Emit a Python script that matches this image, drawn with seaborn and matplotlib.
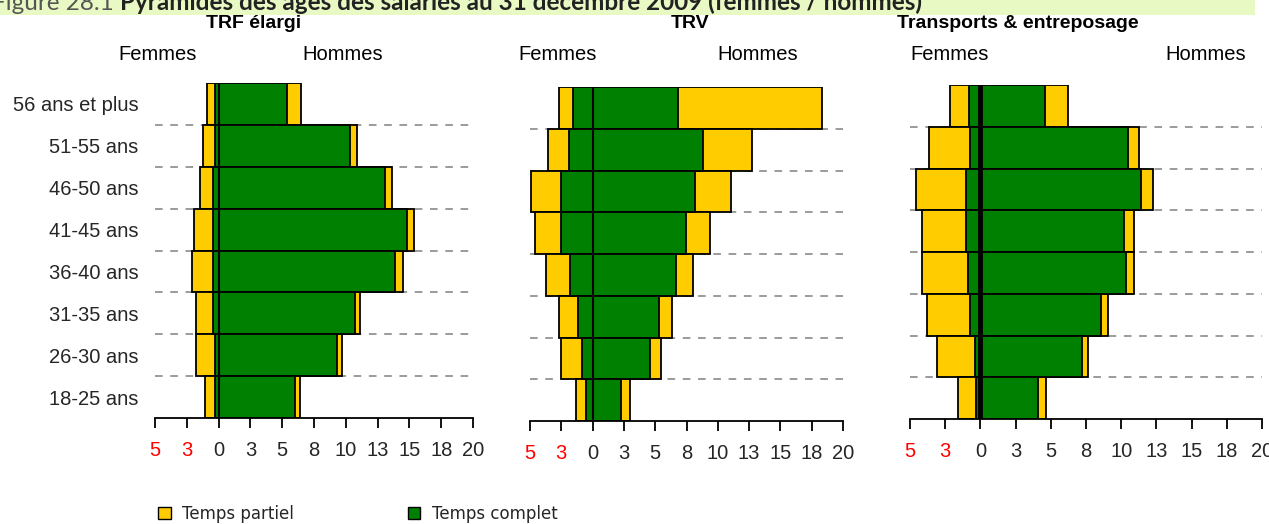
import numpy as np
import pandas as pd
import matplotlib
matplotlib.use('Agg')
import matplotlib.pyplot as plt
import seaborn as sns
from matplotlib.patches import Patch, Rectangle

# age classes, top to bottom
ages = ['56 ans et plus', '51-55 ans', '46-50 ans', '41-45 ans',
        '36-40 ans', '31-35 ans', '26-30 ans', '18-25 ans']

# % des salariés - TRF élargi
trf_h_complet = [5.4, 10.3, 13.1, 14.8, 13.9, 10.7, 9.3, 6.0]
trf_h_partiel = [1.05, 0.57, 0.57, 0.6, 0.6, 0.45, 0.42, 0.42]
trf_f_complet = [0.3, 0.25, 0.45, 0.45, 0.45, 0.45, 0.3, 0.25]
trf_f_partiel = [0.58, 0.96, 1.02, 1.49, 1.65, 1.3, 1.48, 0.78]

# TRV
trv_h_complet = [6.8, 8.8, 8.2, 7.45, 6.65, 5.3, 4.55, 2.3]
trv_h_partiel = [11.5, 3.9, 2.85, 1.95, 1.4, 1.05, 0.9, 0.72]
trv_f_complet = [1.6, 1.9, 2.5, 2.5, 1.8, 1.15, 0.85, 0.53]
trv_f_partiel = [1.1, 1.67, 2.42, 2.13, 1.94, 1.54, 1.68, 0.78]

# Transports & entreposage
tre_h_complet = [4.6, 10.5, 11.4, 10.2, 10.35, 8.6, 7.25, 4.1]
tre_h_partiel = [1.6, 0.78, 0.83, 0.69, 0.55, 0.45, 0.4, 0.55]
tre_f_complet = [0.78, 0.76, 1.04, 1.04, 0.9, 0.76, 0.36, 0.28]
tre_f_partiel = [1.37, 2.86, 3.53, 3.11, 3.25, 3.01, 2.7, 1.31]

panels = [
    ('TRF élargi', trf_h_complet, trf_h_partiel, trf_f_complet, trf_f_partiel),
    ('TRV', trv_h_complet, trv_h_partiel, trv_f_complet, trv_f_partiel),
    ('Transports & entreposage', tre_h_complet, tre_h_partiel, tre_f_complet, tre_f_partiel),
]

tick_vals = np.arange(-5, 20.1, 2.5)
tick_labels = ['5', '3', '0', '3', '5', '8', '10', '13', '15', '18', '20']

YELLOW = '#FFCC00'
GREEN = '#008000'

sns.set_theme(style='white')
plt.rcParams['font.family'] = ['Liberation Sans', 'DejaVu Sans']

W, H = 1269, 524
fig = plt.figure(figsize=(W / 100, H / 100), dpi=100)

# axes boxes in pixels: left, top, right, bottom
boxes = [(155, 83, 473, 418), (530, 87, 843, 421), (910, 85, 1262, 419)]
title_x = [254, 690, 1018]
femmes_x = [158, 558, 950]
hommes_x = [343, 758, 1206]
zero_lw = [1.5, 1.5, 3.5]


def px(x0, y0, x1, y1):
    return [x0 / W, 1 - y1 / H, (x1 - x0) / W, (y1 - y0) / H]


for i, (name, h_c, h_p, f_c, f_p) in enumerate(panels):
    ax = fig.add_axes(px(*boxes[i]))
    df = pd.DataFrame({'age': ages, 'h_c': h_c, 'h_p': h_p, 'f_c': f_c, 'f_p': f_p})
    df['h_tot'] = df['h_c'] + df['h_p']
    df['f_tot'] = -(df['f_c'] + df['f_p'])
    df['f_neg'] = -df['f_c']

    # total (partiel + complet) in yellow, complet drawn on top in green
    for col, c in [('h_tot', YELLOW), ('f_tot', YELLOW), ('h_c', GREEN), ('f_neg', GREEN)]:
        sns.barplot(data=df, x=col, y='age', order=ages, color=c, width=1.0,
                    edgecolor='black', linewidth=1.3, saturation=1, errorbar=None, ax=ax)

    for yy in np.arange(0.5, 7, 1.0):
        ax.axhline(yy, color='#808080', lw=1.1, ls=(0, (5, 5)), zorder=0)
    ax.axvline(0, color='black', lw=zero_lw[i], zorder=5)

    ax.set_xlim(-5, 20)
    ax.set_ylim(7.5, -0.5)
    ax.set_xticks(tick_vals)
    ax.set_xticklabels(tick_labels)
    for lab in ax.get_xticklabels()[:2]:
        lab.set_color('red')
    ax.set_xlabel('')
    ax.set_ylabel('')
    for s in ['top', 'right', 'left']:
        ax.spines[s].set_visible(False)
    ax.spines['bottom'].set_color('black')
    ax.spines['bottom'].set_linewidth(1.3)
    ax.tick_params(axis='x', direction='out', length=7, width=1.3, color='black',
                   labelsize=14.5, pad=9.5, bottom=True)
    ax.tick_params(axis='y', length=0, labelsize=14.5, pad=12)
    if i > 0:
        ax.set_yticklabels([])
    ax.set_facecolor('white')

    fig.text(title_x[i] / W, 1 - 23 / H, name, ha='center', va='center',
             fontsize=14, fontweight='bold', color='black')
    fig.text(femmes_x[i] / W, 1 - 54 / H, 'Femmes', ha='center', va='center',
             fontsize=14.5, color='black')
    fig.text(hommes_x[i] / W, 1 - 54 / H, 'Hommes', ha='center', va='center',
             fontsize=14.5, color='black')

# banner (cut at the top of the picture)
fig.patches.append(Rectangle((0, 1 - 15 / H), 1255 / W, 15 / H, transform=fig.transFigure,
                             facecolor='#E9F9C3', edgecolor='none', zorder=0))
fig.text(-8 / W, 1 - 10 / H, 'Figure 28.1', ha='left', va='baseline', fontsize=17.5,
         color='#555555', family=['Lato', 'DejaVu Sans'])
fig.text(120 / W, 1 - 10 / H, 'Pyramides des âges des salariés au 31 décembre 2009 (femmes / hommes)',
         ha='left', va='baseline', fontsize=17.5, fontweight='bold', color='#222222',
         family=['Lato', 'DejaVu Sans'])

handles = [Patch(facecolor=YELLOW, edgecolor='black', label='Temps partiel'),
           Patch(facecolor=GREEN, edgecolor='black', label='Temps complet')]
fig.legend(handles=handles, loc='center left', bbox_to_anchor=(158 / W, 1 - 514 / H),
           ncol=2, frameon=False, handlelength=0.75, handleheight=0.75, handletextpad=0.72,
           columnspacing=6.8, borderpad=0, borderaxespad=0,
           prop={'family': ['DejaVu Sans'], 'size': 12})

fig.savefig('out.png', dpi=100)
